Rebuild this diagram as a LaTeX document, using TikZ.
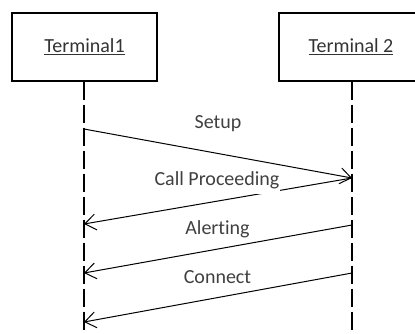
\documentclass[tikz,border=0pt]{standalone}
\usepackage{fontspec}
\setmainfont{Carlito}[Ligatures={NoCommon}]
\usetikzlibrary{arrows.meta}
\begin{document}
\begin{tikzpicture}[x=1pt,y=-1pt,
  font=\fontsize{20}{24}\selectfont,
  party/.style={draw=black,line width=1.4pt,minimum height=68pt,inner sep=0pt,text=black!80},
  lifeline/.style={draw=black,line width=1.3pt,dash pattern=on 18pt off 5pt},
  msg/.style={draw=black,line width=1pt,-{Straight Barb[length=11pt,width=16pt,line width=1pt]}},
  msglabel/.style={anchor=base,inner xsep=1pt,inner ysep=4.5pt,text=black!75}]
\useasboundingbox (0,0) rectangle (415,333);
\begin{scope}
\clip (0,0) rectangle (415,333);
% participants
\node[party,minimum width=145pt] (t1) at (84.5,47) {\underline{Terminal1}};
\node[party,minimum width=144pt] (t2) at (351,47) {\underline{Terminal 2}};
% lifeline ends
\coordinate (b1) at (84,340);
\coordinate (b2) at (352,340);
\draw[lifeline] (t1.south -| b1) -- (b1);
\draw[lifeline] (t2.south -| b2) -- (b2);
% message anchor points on the lifelines
\coordinate (a1) at (84,129);
\coordinate (a2) at (352,178);
\coordinate (a3) at (84,224);
\coordinate (a4) at (352,225);
\coordinate (a5) at (84,273);
\coordinate (a6) at (352,273);
\coordinate (a7) at (84,322);
% messages
\draw[msg] (a1) -- (a2);
\draw[msg] (a2) -- (a3);
\draw[msg] (a4) -- (a5);
\draw[msg] (a6) -- (a7);
% labels (kern keeps the t and i apart)
\node[msglabel] (l1) at (218,128.6) {Setup};
\node[msglabel,fill=white] (l2) at (217,185.7) {Call Proceeding};
\node[msglabel] (l3) at (217.5,234.6) {Alert\kern0pt ing};
\node[msglabel] (l4) at (217.5,283) {Connect};
\end{scope}
\end{tikzpicture}
\end{document}
